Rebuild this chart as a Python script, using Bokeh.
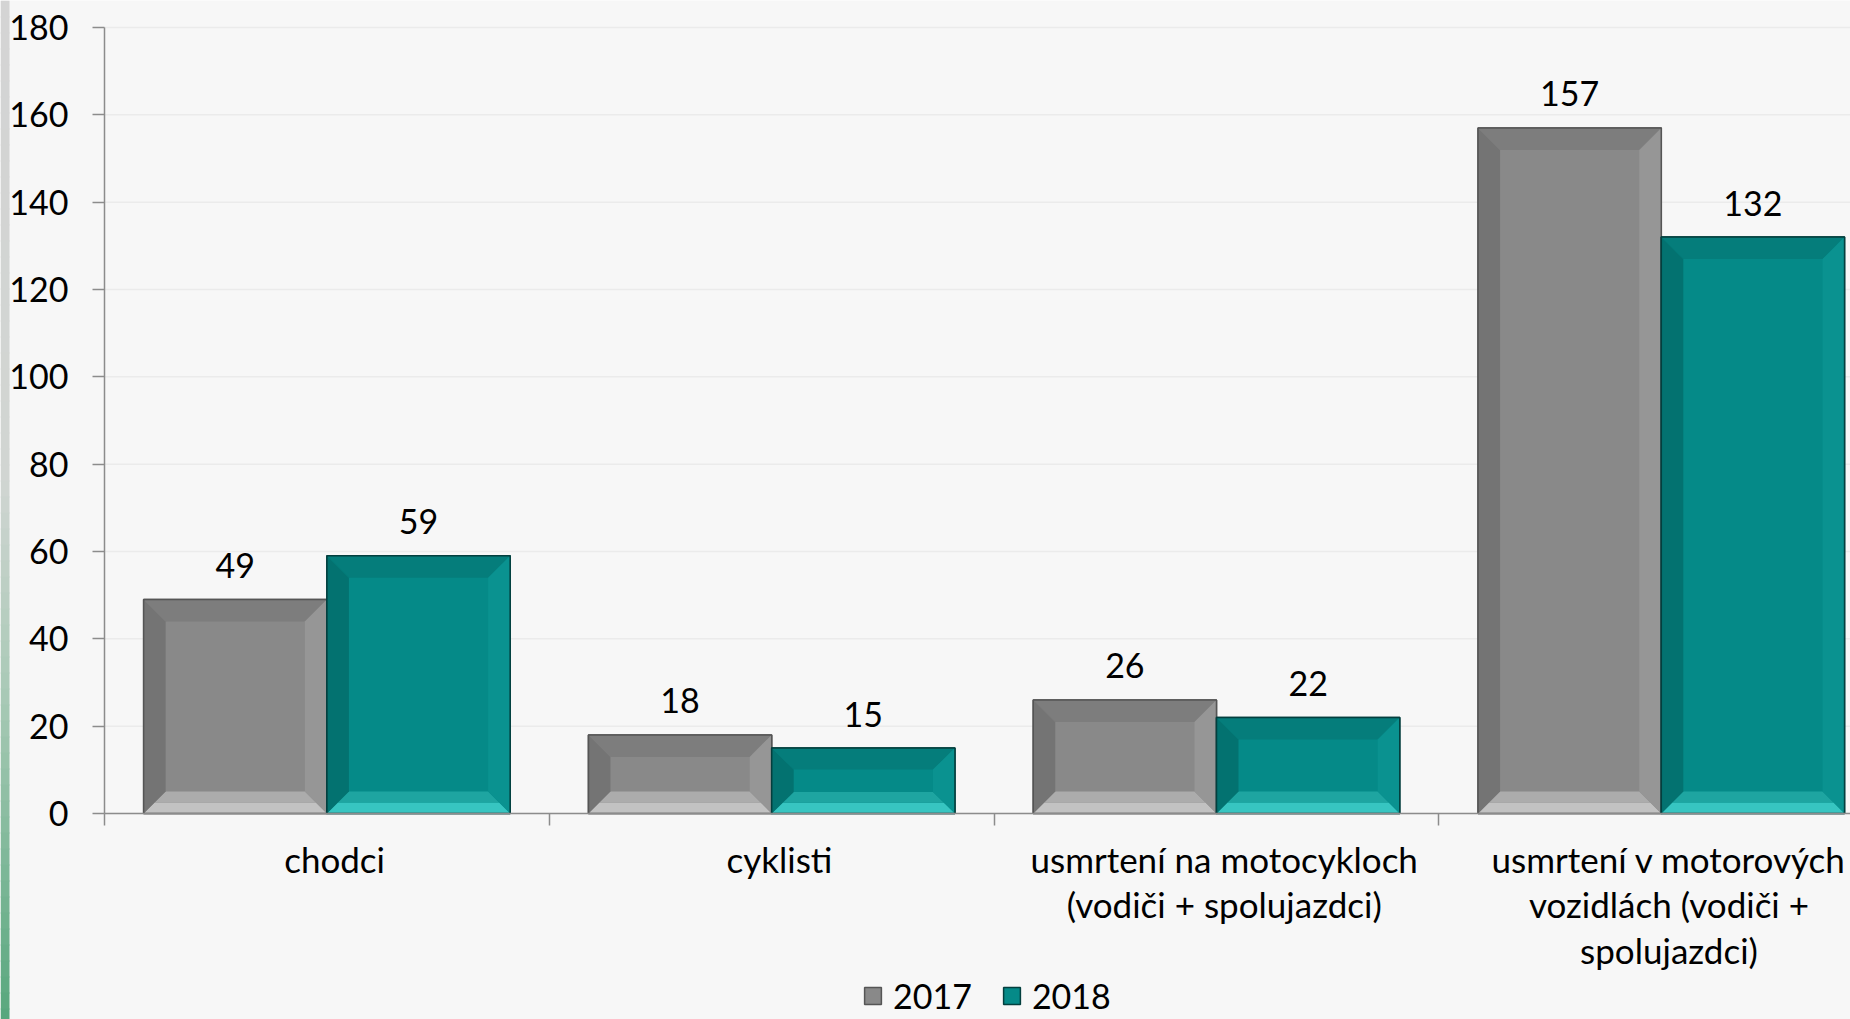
from bokeh.plotting import figure
from bokeh.models import Range1d, FixedTicker, Legend, LegendItem, ColumnDataSource
from bokeh.core.properties import value
from bokeh.embed import file_html
from bokeh.resources import INLINE

# ---------------- data ----------------
categories = [
    "chodci",
    "cyklisti",
    "usmrtení na motocykloch\n(vodiči + spolujazdci)",
    "usmrtení v motorových\nvozidlách (vodiči +\nspolujazdci)",
]
years = ["2017", "2018"]
values_2017 = [49, 18, 26, 157]
values_2018 = [59, 15, 22, 132]
y_ticks = [0, 20, 40, 60, 80, 100, 120, 140, 160, 180]

# ---------------- layout constants (pixels) ----------------
W, H = 1850, 1019
AXIS_X, TOP_Y, ZERO_Y = 104, 27, 813
PX_PER_CAT = 444.8
PX_PER_UNIT = (ZERO_Y - TOP_Y) / 180.0
BAR_W = 0.412
LABEL_SHIFT = 7.7 / PX_PER_CAT
FONT = "Lato"


def px_to_x(px):
    return (px - AXIS_X) / PX_PER_CAT


def py_to_y(py):
    return (ZERO_Y - py) / PX_PER_UNIT


x_start, x_end = px_to_x(0), px_to_x(W)
y_start, y_end = py_to_y(H), py_to_y(0)

p = figure(
    width=W, height=H,
    x_range=Range1d(x_start, x_end), y_range=Range1d(y_start, y_end),
    output_backend="svg", toolbar_location=None,
    min_border_left=0, min_border_right=0, min_border_top=0, min_border_bottom=0,
    background_fill_color="#f7f7f7", border_fill_color="#f7f7f7",
    outline_line_color=None,
)

# ---------------- left decorative stripe (gray -> green) ----------------
def hex2rgb(h):
    return tuple(int(h[i:i + 2], 16) for i in (1, 3, 5))


stops = [(0, "#d4d4d4"), (480, "#d1d5d2"), (700, "#a7c9b5"), (1019, "#57a77d")]
band = 16
lefts, rights, tops, bottoms, cols = [], [], [], [], []
for py in range(0, H, band):
    mid = py + band / 2
    for (a, ca), (b, cb) in zip(stops[:-1], stops[1:]):
        if a <= mid <= b:
            t = (mid - a) / (b - a)
            r = [round(u + (v - u) * t) for u, v in zip(hex2rgb(ca), hex2rgb(cb))]
            cols.append("#%02x%02x%02x" % tuple(r))
            break
    lefts.append(px_to_x(0)); rights.append(px_to_x(9))
    tops.append(py_to_y(py)); bottoms.append(py_to_y(py + band + 1))
p.quad(left=lefts, right=rights, top=tops, bottom=bottoms, fill_color=cols, line_color=None)

# ---------------- grid lines ----------------
p.xgrid.visible = False
p.ygrid.visible = False
p.segment(x0=[0] * len(y_ticks), x1=[x_end] * len(y_ticks), y0=y_ticks, y1=y_ticks,
          line_color="#ebebeb", line_width=1.5)

# ---------------- axes ----------------
yax = p.yaxis[0]
yax.fixed_location = 0
yax.ticker = FixedTicker(ticks=y_ticks)
yax.bounds = (0, 180)
yax.major_tick_out = 12
yax.major_tick_in = 0
yax.minor_tick_out = 0
yax.minor_tick_in = 0
yax.axis_line_color = "#8c8c8c"
yax.axis_line_width = 1.5
yax.major_tick_line_color = "#8c8c8c"
yax.major_tick_line_width = 1.5
yax.major_label_standoff = 24
yax.major_label_text_font = FONT
yax.major_label_text_font_size = "34px"
yax.major_label_text_color = "#000000"

xax = p.xaxis[0]
xax.fixed_location = 0
xax.bounds = (0, x_end)
centers = [i + 0.5 for i in range(len(categories))]
label_pos = [c + LABEL_SHIFT for c in centers]
xax.ticker = FixedTicker(ticks=label_pos, minor_ticks=list(range(len(categories) + 1)))
xax.major_label_overrides = {c: lab for c, lab in zip(label_pos, categories)}
xax.major_tick_out = 0
xax.major_tick_in = 0
xax.minor_tick_out = 12
xax.minor_tick_in = 0
xax.minor_tick_line_color = "#8c8c8c"
xax.minor_tick_line_width = 1.5
xax.axis_line_color = "#8c8c8c"
xax.axis_line_width = 1.5
xax.major_label_standoff = 12
xax.major_label_text_font = FONT
xax.major_label_text_font_size = "35px"
xax.major_label_text_line_height = 1.09
xax.major_label_text_color = "#000000"

# ---------------- bars with bevel ----------------
styles = {
    "2017": dict(face="#898989", top="#7d7d7d", left="#747474", right="#969696",
                 bot_out="#c2c2c2", bot_in="#acacac", outline="#555555", offset=-BAR_W / 2),
    "2018": dict(face="#058a88", top="#057d7b", left="#037270", right="#0a9290",
                 bot_out="#37c5c1", bot_in="#1ea5a1", outline="#033f3e", offset=BAR_W / 2),
}
series = {"2017": values_2017, "2018": values_2018}

bx = 22 / PX_PER_CAT
legend_items = []
for yr in years:
    st = styles[yr]
    vals = series[yr]
    xs_c = [c + st["offset"] for c in centers]
    src = ColumnDataSource(dict(x=xs_c, top=vals))
    base = p.vbar(x="x", top="top", width=BAR_W, bottom=0, source=src,
                  fill_color=st["face"], line_color=st["outline"], line_width=1.5)
    legend_items.append(LegendItem(label=yr, renderers=[base]))

    pxs, pys, cols = [], [], []
    for xc, v in zip(xs_c, vals):
        x0, x1 = xc - BAR_W / 2, xc + BAR_W / 2
        by = min(22 / PX_PER_UNIT, v * 0.33)
        hb, hx = by / 2, bx / 2
        # top
        pxs.append([x0, x1, x1 - bx, x0 + bx]); pys.append([v, v, v - by, v - by]); cols.append(st["top"])
        # bottom (two tones)
        pxs.append([x0, x1, x1 - hx, x0 + hx]); pys.append([0, 0, hb, hb]); cols.append(st["bot_out"])
        pxs.append([x0 + hx, x1 - hx, x1 - bx, x0 + bx]); pys.append([hb, hb, by, by]); cols.append(st["bot_in"])
        # left
        pxs.append([x0, x0, x0 + bx, x0 + bx]); pys.append([0, v, v - by, by]); cols.append(st["left"])
        # right
        pxs.append([x1, x1, x1 - bx, x1 - bx]); pys.append([0, v, v - by, by]); cols.append(st["right"])
    p.patches(xs=pxs, ys=pys, fill_color=cols, line_color=None)
    p.vbar(x=xs_c, top=vals, width=BAR_W, bottom=0, fill_color=None,
           line_color=st["outline"], line_width=1.5)

    # data labels
    p.text(x=xs_c, y=[v + 34 / PX_PER_UNIT for v in vals], text=[str(v) for v in vals],
           text_align="center", text_baseline="middle",
           text_font=value(FONT), text_font_size="34px", text_color="#000000")

# ---------------- legend ----------------
legend = Legend(
    items=legend_items, orientation="horizontal", location=(862, 3),
    glyph_width=21, glyph_height=21, label_standoff=10, spacing=29,
    padding=0, margin=0, border_line_color=None, background_fill_alpha=0,
    label_text_font=FONT, label_text_font_size="34px", label_text_color="#000000",
)
p.add_layout(legend)

open("out.html", "w").write(file_html(p, INLINE))
